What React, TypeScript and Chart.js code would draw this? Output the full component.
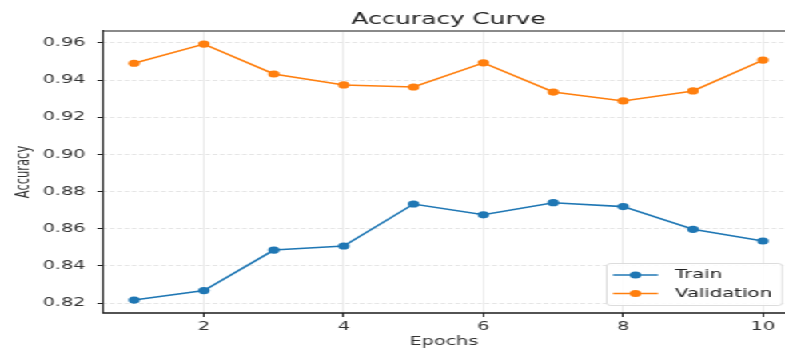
import React, { useEffect, useRef } from "react";
import { Chart, registerables } from "chart.js";

Chart.register(...registerables);

// ---- data ----
const epochs = [1, 2, 3, 4, 5, 6, 7, 8, 9, 10];
const trainAcc = [0.8216, 0.8267, 0.8485, 0.8507, 0.8733, 0.8675, 0.874, 0.8719, 0.8597, 0.8534];
const valAcc = [0.9491, 0.9594, 0.9433, 0.9374, 0.9363, 0.9493, 0.9336, 0.9288, 0.9342, 0.9508];
const xTicks = [2, 4, 6, 8, 10];
const yTicks = [0.82, 0.84, 0.86, 0.88, 0.9, 0.92, 0.94, 0.96];
const seriesLabels = ["Train", "Validation"];
const seriesColors = ["#1f77b4", "#ff7f0e"];
const titleText = "Accuracy Curve";
const xLabel = "Epochs";
const yLabel = "Accuracy";

// ---- layout (internal canvas is horizontally stretched to 785px) ----
const INNER_W = 491;
const INNER_H = 353;
const OUT_W = 785;
const SCALE_X = OUT_W / INNER_W;
const FONT = '"DejaVu Sans", sans-serif';

const spinesPlugin = {
  id: "spines",
  afterDatasetsDraw(chart: any) {
    const { ctx, chartArea: a } = chart;
    ctx.save();
    ctx.lineCap = "butt";
    ctx.strokeStyle = "#8a8a8a";
    ctx.lineWidth = 2;
    ctx.beginPath();
    ctx.moveTo(a.left, a.top);
    ctx.lineTo(a.right + 2, a.top);
    ctx.stroke();
    ctx.strokeStyle = "#1a1a1a";
    ctx.lineWidth = 1;
    ctx.beginPath();
    ctx.moveTo(a.left, a.top - 1);
    ctx.lineTo(a.left, a.bottom + 0.6);
    ctx.stroke();
    ctx.lineWidth = 1.3;
    ctx.beginPath();
    ctx.moveTo(a.left, a.bottom);
    ctx.lineTo(a.right + 2, a.bottom);
    ctx.stroke();
    ctx.restore();
  },
};

const titlePlugin = {
  id: "axesTitle",
  afterDraw(chart: any) {
    const { ctx } = chart;
    const xs = chart.scales.x;
    const cx = xs.getPixelForValue(5.5);
    ctx.save();
    ctx.font = `15.5px ${FONT}`;
    ctx.fillStyle = "#222";
    ctx.textAlign = "center";
    ctx.textBaseline = "alphabetic";
    ctx.fillText(titleText, cx, 24);
    ctx.restore();
  },
};

const legendPlugin = {
  id: "boxLegend",
  afterDraw(chart: any) {
    const { ctx } = chart;
    const left = 379.5;
    const top = 263.5;
    const bottom = 305.5;
    const right = 489.3;
    const r = 2.5;
    ctx.save();
    ctx.beginPath();
    ctx.moveTo(left + r, top);
    ctx.lineTo(right - r, top);
    ctx.quadraticCurveTo(right, top, right, top + r);
    ctx.lineTo(right, bottom - r);
    ctx.quadraticCurveTo(right, bottom, right - r, bottom);
    ctx.lineTo(left + r, bottom);
    ctx.quadraticCurveTo(left, bottom, left, bottom - r);
    ctx.lineTo(left, top + r);
    ctx.quadraticCurveTo(left, top, left + r, top);
    ctx.closePath();
    ctx.fillStyle = "rgba(255,255,255,0.85)";
    ctx.fill();
    ctx.strokeStyle = "#d4d4d4";
    ctx.lineWidth = 0.8;
    ctx.stroke();

    const rows = [275, 293.5];
    const x1 = 383.4;
    const x2 = 411.6;
    const mx = (x1 + x2) / 2;
    const tx = 422.2;
    chart.data.datasets.forEach((ds: any, i: number) => {
      const y = rows[i];
      ctx.strokeStyle = ds.borderColor;
      ctx.lineWidth = 1.5;
      ctx.beginPath();
      ctx.moveTo(x1, y);
      ctx.lineTo(x2, y);
      ctx.stroke();
      ctx.fillStyle = ds.backgroundColor;
      ctx.beginPath();
      ctx.arc(mx, y, 3.6, 0, Math.PI * 2);
      ctx.fill();
      ctx.fillStyle = "#222";
      ctx.font = `12.3px ${FONT}`;
      ctx.textAlign = "left";
      ctx.textBaseline = "middle";
      ctx.fillText(ds.label, tx, y);
    });
    ctx.restore();
  },
};

export default function App() {
  const canvasRef = useRef<HTMLCanvasElement | null>(null);

  useEffect(() => {
    if (!canvasRef.current) return;
    Chart.defaults.font.family = FONT;
    const series = [trainAcc, valAcc];
    const chart = new Chart(canvasRef.current, {
      type: "line",
      data: {
        datasets: series.map((vals, i) => ({
          label: seriesLabels[i],
          data: epochs.map((e, j) => ({ x: e, y: vals[j] })),
          borderColor: seriesColors[i],
          backgroundColor: seriesColors[i],
          pointBackgroundColor: seriesColors[i],
          pointBorderColor: seriesColors[i],
          pointRadius: 3.6,
          pointBorderWidth: 0,
          borderWidth: 1.6,
          tension: 0,
          fill: false,
        })),
      },
      options: {
        animation: false,
        responsive: true,
        maintainAspectRatio: false,
        layout: { autoPadding: false, padding: { top: 31, left: 0, right: 0, bottom: 0 } },
        plugins: {
          legend: { display: false },
          title: { display: false },
          tooltip: { enabled: false },
        },
        scales: {
          x: {
            type: "linear",
            min: 0.554,
            max: 10.316,
            afterBuildTicks: (s: any) => {
              s.ticks = xTicks.map((v) => ({ value: v }));
            },
            afterFit: (s: any) => {
              s.height = 40;
              s.paddingLeft = 0;
              s.paddingRight = 0;
            },
            grid: {
              color: "rgba(0,0,0,0.10)",
              lineWidth: 0.8,
              drawTicks: true,
              tickLength: 4,
              tickColor: "#222",
              tickWidth: 1,
            },
            border: { display: false },
            ticks: {
              autoSkip: false,
              maxRotation: 0,
              padding: 3,
              color: "#333",
              font: { size: 12, family: FONT },
              callback: (v: any) => String(v),
            },
            title: {
              display: true,
              text: xLabel,
              color: "#333",
              font: { size: 12, family: FONT },
              padding: { top: 0, bottom: 4 },
            },
          },
          y: {
            type: "linear",
            min: 0.81462,
            max: 0.96646,
            afterBuildTicks: (s: any) => {
              s.ticks = yTicks.map((v) => ({ value: v }));
            },
            afterFit: (s: any) => {
              s.width = 64.4;
              s.paddingTop = 0;
              s.paddingBottom = 0;
            },
            grid: {
              color: "rgba(0,0,0,0.13)",
              lineWidth: 0.8,
              drawTicks: true,
              tickLength: 3.5,
              tickColor: "#222",
              tickWidth: 1,
              tickBorderDash: [],
            },
            border: { display: false, dash: [3, 1.6] },
            ticks: {
              autoSkip: false,
              padding: 7.5,
              color: "#333",
              font: { size: 12, family: FONT },
              callback: (v: any) => Number(v).toFixed(2),
            },
            title: {
              display: true,
              text: yLabel,
              color: "#333",
              font: { size: 11.5, family: FONT },
              padding: { top: 8, bottom: 0 },
            },
          },
        },
      },
      plugins: [spinesPlugin, legendPlugin, titlePlugin],
    } as any);
    return () => chart.destroy();
  }, []);

  return (
    <div
      style={{
        position: "fixed",
        left: 0,
        top: 0,
        width: INNER_W + "px",
        height: INNER_H + "px",
        transform: `scaleX(${SCALE_X})`,
        transformOrigin: "0 0",
        background: "#fff",
      }}
    >
      <canvas ref={canvasRef} />
    </div>
  );
}
